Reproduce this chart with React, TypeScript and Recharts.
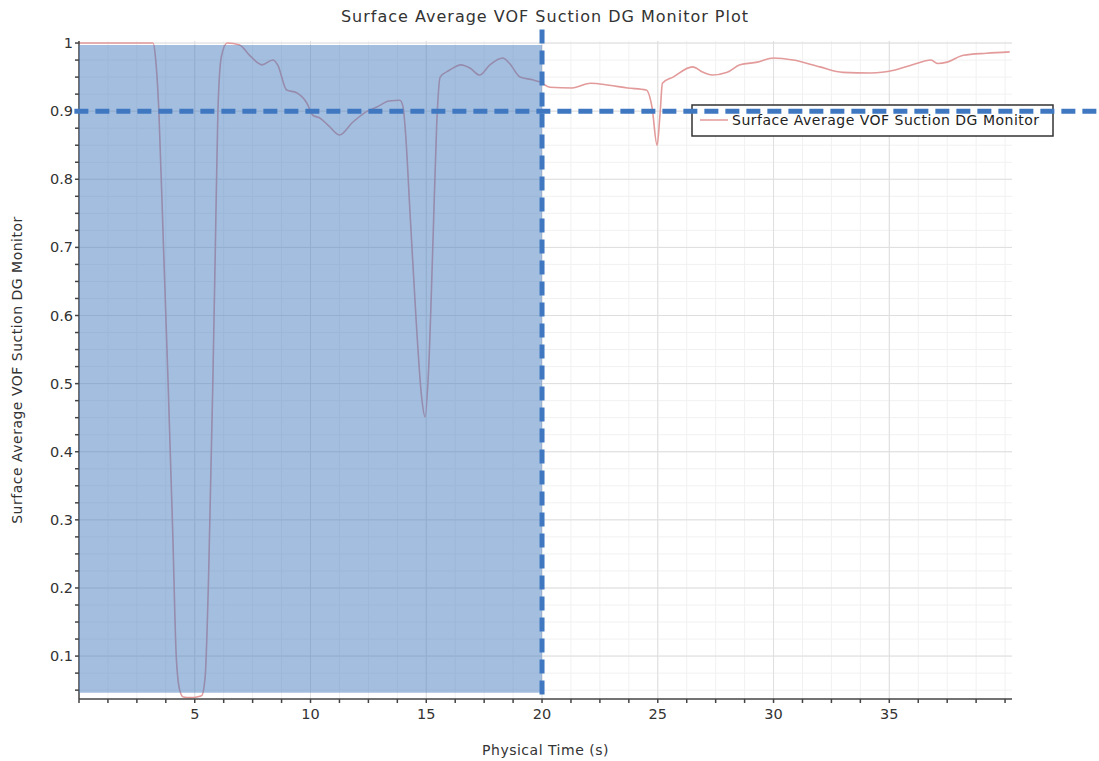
import {
  CartesianGrid,
  Customized,
  Line,
  LineChart,
  ReferenceArea,
  ReferenceLine,
  XAxis,
  YAxis,
} from "recharts";

// physical time (s) and surface average VOF
const time = [
  0, 1, 2, 3, 3.2, 3.3, 3.45, 3.65, 3.85, 4.05, 4.2, 4.35, 4.5, 4.8, 5.1, 5.3,
  5.45, 5.6, 5.78, 5.9, 6.0, 6.15, 6.4, 6.94, 7.37, 7.9, 8.37, 8.58, 8.97, 9.4,
  9.84, 10.1, 10.4, 10.8, 11.26, 11.8, 12.4, 12.86, 13.4, 13.86, 14.0, 14.1,
  14.3, 14.55, 14.8, 14.95, 15.1, 15.3, 15.45, 15.6, 16.0, 16.5, 16.9, 17.3,
  17.75, 18.3, 18.6, 19.05, 19.6, 19.9, 20.35, 21.3, 22.1, 22.9, 23.7, 24.5,
  24.75, 24.97, 25.1, 25.2, 25.66, 26.5, 26.96, 27.35, 28.0, 28.55, 29.3, 30.0,
  30.85, 32.0, 33.0, 34.2, 35.2, 36.0, 36.8, 37.1, 37.5, 38.2, 39.2, 40.2,
];
const vof = [
  1, 1, 1, 1, 1, 0.98, 0.9, 0.7, 0.5, 0.28, 0.1, 0.05, 0.04, 0.039, 0.04, 0.042,
  0.07, 0.22, 0.5, 0.72, 0.9, 0.98, 1.0, 0.997, 0.982, 0.968, 0.975, 0.968,
  0.931, 0.927, 0.912, 0.894, 0.89, 0.878, 0.865, 0.883, 0.899, 0.906, 0.915,
  0.916, 0.906, 0.87, 0.75, 0.6, 0.48, 0.451, 0.52, 0.72, 0.88, 0.95, 0.96,
  0.968, 0.963, 0.953, 0.968, 0.978, 0.97, 0.95, 0.946, 0.943, 0.935, 0.934,
  0.941, 0.938, 0.934, 0.931, 0.906, 0.85, 0.897, 0.941, 0.95, 0.965, 0.957,
  0.953, 0.957, 0.968, 0.972, 0.978, 0.975, 0.965, 0.957, 0.956, 0.96, 0.968,
  0.975, 0.97, 0.972, 0.982, 0.985, 0.987,
];

const xMajor = [5, 10, 15, 20, 25, 30, 35];
const yMajor = [0.1, 0.2, 0.3, 0.4, 0.5, 0.6, 0.7, 0.8, 0.9, 1];
const xMinor = Array.from({ length: 33 }, (_, i) => +(i * 1.25).toFixed(2));
const yMinor = Array.from({ length: 39 }, (_, i) => +(0.05 + i * 0.025).toFixed(3));

const seriesName = "Surface Average VOF Suction DG Monitor";
const data = time.map((t, i) => ({ t, v: vof[i] }));

const FONT = "DejaVu Sans, sans-serif";
const LINE = "#e39a9a";
const BLUE = "#3f78c1";

const XTick = ({ x, y, payload }: any) => {
  const v = payload.value;
  if (!xMajor.includes(v)) return null;
  return (
    <text x={x} y={y} dy={14} textAnchor="middle" fill="#333" fontSize={14.5} fontFamily={FONT}>
      {v}
    </text>
  );
};

const YTick = ({ x, y, payload }: any) => {
  const v = payload.value;
  if (!yMajor.some((m) => Math.abs(m - v) < 1e-6)) return null;
  return (
    <text x={x} y={y} dy={5} textAnchor="end" fill="#333" fontSize={14.5} fontFamily={FONT}>
      {v === 1 ? "1" : v.toFixed(1)}
    </text>
  );
};

const LegendBox = () => (
  <g>
    <rect x={692} y={105} width={361} height={31} fill="#fff" stroke="#333" strokeWidth={1.5} />
    <line x1={700} x2={728} y1={120} y2={120} stroke={LINE} strokeWidth={1.5} />
    <text x={732} y={125} fontSize={14} letterSpacing={0.5} fill="#222" fontFamily={FONT}>
      {seriesName}
    </text>
  </g>
);

export default function App() {
  return (
    <div style={{ position: "absolute", left: 0, top: 0, background: "#fff" }}>
      <LineChart
        width={1099}
        height={761}
        data={data}
        margin={{ top: 41, right: 87, left: 0, bottom: 0 }}
      >
        <text
          x={545}
          y={22}
          textAnchor="middle"
          fontSize={16}
          letterSpacing={1}
          fill="#333"
          fontFamily={FONT}
        >
          Surface Average VOF Suction DG Monitor Plot
        </text>
        <CartesianGrid stroke="#f1f1f1" verticalValues={xMinor} horizontalValues={yMinor} />
        <CartesianGrid stroke="#dedede" verticalValues={xMajor} horizontalValues={yMajor} />
        <XAxis
          type="number"
          dataKey="t"
          domain={[0, 40.3]}
          allowDataOverflow
          ticks={xMinor}
          interval={0}
          height={62}
          tickSize={4}
          stroke="#444"
          strokeWidth={1.5}
          tick={<XTick />}
          label={{
            value: "Physical Time (s)",
            position: "insideBottom",
            offset: 6,
            fontSize: 14,
            letterSpacing: 0.5,
            fill: "#333",
            fontFamily: FONT,
          }}
        />
        <YAxis
          type="number"
          domain={[0.037, 1.003]}
          allowDataOverflow
          ticks={yMinor}
          interval={0}
          width={79}
          tickSize={4}
          stroke="#444"
          strokeWidth={1.5}
          tick={<YTick />}
          label={{
            value: seriesName,
            angle: -90,
            position: "insideLeft",
            offset: 17,
            fontSize: 14,
            letterSpacing: 0.5,
            fill: "#333",
            fontFamily: FONT,
            style: { textAnchor: "middle" },
          }}
        />
        <Line
          type="monotone"
          dataKey="v"
          stroke={LINE}
          strokeWidth={1.6}
          dot={false}
          isAnimationActive={false}
          zIndex={400}
        />
        <ReferenceArea
          x1={0}
          x2={20}
          y1={0.046}
          y2={0.997}
          fill="#4a7ebf"
          fillOpacity={0.5}
          stroke="none"
          zIndex={500}
        />
        <Customized component={<LegendBox />} />
        <ReferenceLine
          segment={[
            { x: -0.2, y: 0.9 },
            { x: 44.2, y: 0.9 },
          ]}
          ifOverflow="visible"
          stroke={BLUE}
          strokeWidth={5}
          strokeDasharray="14 7"
          zIndex={600}
        />
        <ReferenceLine
          segment={[
            { x: 20, y: 1.02 },
            { x: 20, y: 0.037 },
          ]}
          ifOverflow="visible"
          stroke={BLUE}
          strokeWidth={5}
          strokeDasharray="14 7"
          zIndex={600}
        />
      </LineChart>
    </div>
  );
}
